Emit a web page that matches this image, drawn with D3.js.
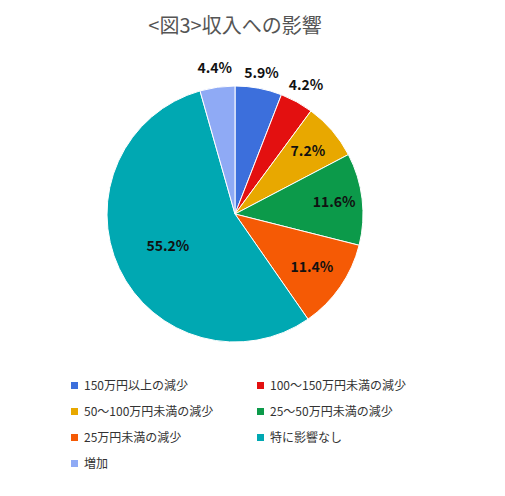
<!DOCTYPE html>
<html><head><meta charset="utf-8">
<script src="https://cdn.jsdelivr.net/npm/d3@7"></script>
<style>body{margin:0;background:#fff}text{font-family:"Noto Sans CJK JP","Noto Sans",sans-serif}</style>
</head><body><svg id="c" width="505" height="496"></svg>
<script>
const categories=["150万円以上の減少","100～150万円未満の減少","50～100万円未満の減少","25～50万円未満の減少","25万円未満の減少","特に影響なし","増加"];
const values=[5.9,4.2,7.2,11.6,11.4,55.2,4.4];
const colors=["#3c6fdc","#e31010","#e8a800","#0c9a4a","#f55a05","#00a8b2","#8faaf5"];
const svg=d3.select("#c");
svg.append("text").attr("x",235).attr("y",33).attr("text-anchor","middle").attr("font-size",20).attr("fill","#555").text("<図3>収入への影響");
const cx=235,cy=214,r=128;
const pie=d3.pie().sort(null).value(d=>d)(values);
const arc=d3.arc().innerRadius(0).outerRadius(r);
const g=svg.append("g").attr("transform",`translate(${cx},${cy})`);
g.selectAll("path").data(pie).join("path").attr("d",arc).attr("fill",(d,i)=>colors[i]).attr("stroke","#fff").attr("stroke-width",1);
const rad=[1.12,1.15,0.75,0.78,0.73,0.58,1.15];
g.selectAll("text").data(pie).join("text")
 .attr("transform",(d,i)=>{const a=(d.startAngle+d.endAngle)/2;const k=r*rad[i];return `translate(${Math.sin(a)*k},${-Math.cos(a)*k})`;})
 .attr("text-anchor","middle").attr("dy","0.35em").attr("font-size",14).attr("font-weight","bold").attr("fill","#111")
 .text(d=>d.value.toFixed(1)+"%");
const lg=svg.append("g");
categories.forEach((c,i)=>{const x=i%2?257:71,y=386+Math.floor(i/2)*26;
 lg.append("rect").attr("x",x).attr("y",y-4).attr("width",7).attr("height",7).attr("fill",colors[i]);
 lg.append("text").attr("x",x+13).attr("y",y).attr("dy","0.35em").attr("font-size",12).attr("fill","#333").text(c);});
</script></body></html>
